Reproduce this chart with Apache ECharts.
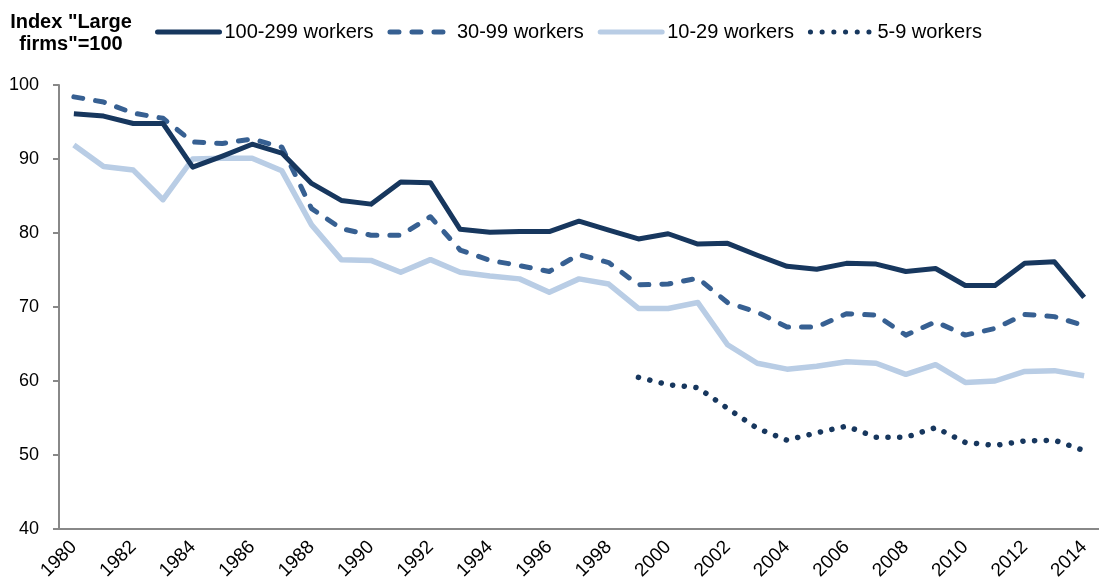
<!DOCTYPE html>
<html>
<head>
<meta charset="utf-8">
<script src="https://cdn.jsdelivr.net/npm/echarts@6/dist/echarts.min.js"></script>
<style>
  html, body { margin: 0; padding: 0; background: #fff; }
  #main { width: 1099px; height: 588px; }
</style>
</head>
<body>
<div id="main"></div>
<script>
var years = [];
for (var y = 1980; y <= 2014; y++) years.push(String(y));

// index, "large firms" = 100
var w100_299 = [96.1, 95.8, 94.8, 94.8, 88.9, 90.4, 92.0, 90.8, 86.7, 84.4, 83.9, 86.9, 86.8,
  80.5, 80.1, 80.2, 80.2, 81.6, 80.4, 79.2, 79.9, 78.5, 78.6, 77.0, 75.5, 75.1, 75.9, 75.8,
  74.8, 75.2, 72.9, 72.9, 75.9, 76.1, 71.3];
var w30_99 = [98.4, 97.7, 96.2, 95.5, 92.3, 92.1, 92.7, 91.6, 83.3, 80.6, 79.7, 79.7, 82.2,
  77.7, 76.3, 75.6, 74.8, 77.1, 76.0, 73.0, 73.1, 73.9, 70.6, 69.3, 67.3, 67.3, 69.1, 68.9,
  66.2, 68.0, 66.2, 67.1, 69.0, 68.7, 67.5];
var w10_29 = [91.9, 89.0, 88.5, 84.5, 90.0, 90.1, 90.1, 88.4, 81.1, 76.4, 76.3, 74.7, 76.4,
  74.7, 74.2, 73.8, 72.0, 73.8, 73.1, 69.8, 69.8, 70.6, 64.9, 62.4, 61.6, 62.0, 62.6, 62.4,
  60.9, 62.2, 59.8, 60.0, 61.3, 61.4, 60.7];
var w5_9 = [null, null, null, null, null, null, null, null, null, null, null, null, null,
  null, null, null, null, null, null, 60.5, 59.5, 59.1, 56.3, 53.6, 52.0, 53.0, 53.9, 52.4,
  52.4, 53.7, 51.7, 51.3, 51.9, 52.0, 50.6];

var yTicks = { min: 40, max: 100, step: 10 };

var chart = echarts.init(document.getElementById('main'));
var font = 'Liberation Sans, Arial, sans-serif';

chart.setOption({
  animation: false,
  backgroundColor: '#fff',
  textStyle: { fontFamily: font },
  graphic: [{
    type: 'text',
    x: 71,
    y: 11,
    style: {
      text: 'Index "Large\nfirms"=100',
      font: 'bold 20px ' + font,
      fill: '#000',
      align: 'center',
      lineHeight: 22
    }
  }],
  legend: {
    left: 150,
    top: 17,
    itemWidth: 62,
    itemHeight: 20,
    itemGap: 14,
    itemStyle: { opacity: 0 },
    lineStyle: { width: 5, cap: 'round' },
    textStyle: { fontSize: 20, color: '#000', fontFamily: font },
    data: ['100-299 workers', '30-99 workers', '10-29 workers', '5-9 workers']
  },
  grid: { left: 59, right: 0, top: 85, bottom: 59, containLabel: false },
  xAxis: {
    type: 'category',
    data: years,
    boundaryGap: true,
    axisLine: { lineStyle: { color: '#888', width: 2 } },
    axisTick: { interval: 0, length: 6, lineStyle: { color: '#888', width: 2 } },
    axisLabel: {
      interval: 1,
      rotate: 45,
      fontSize: 19,
      color: '#000',
      margin: 15
    },
    splitLine: { show: false }
  },
  yAxis: {
    type: 'value',
    min: yTicks.min,
    max: yTicks.max,
    interval: yTicks.step,
    axisLine: { show: true, lineStyle: { color: '#888', width: 2 } },
    axisTick: { show: true, length: 6, lineStyle: { color: '#888', width: 2 } },
    axisLabel: { fontSize: 18, color: '#000', margin: 20 },
    splitLine: { show: false }
  },
  series: [{
    name: '100-299 workers',
    type: 'line',
    data: w100_299,
    symbol: 'none',
    color: '#17375E',
    lineStyle: { width: 5, color: '#17375E', join: 'round' },
    z: 4
  }, {
    name: '30-99 workers',
    type: 'line',
    data: w30_99,
    symbol: 'none',
    color: '#376092',
    lineStyle: { width: 5, color: '#376092', type: [9, 13], cap: 'round', join: 'round' },
    z: 3
  }, {
    name: '10-29 workers',
    type: 'line',
    data: w10_29,
    symbol: 'none',
    color: '#B9CDE5',
    lineStyle: { width: 5.5, color: '#B9CDE5', join: 'round' },
    z: 2
  }, {
    name: '5-9 workers',
    type: 'line',
    data: w5_9,
    symbol: 'none',
    color: '#17375E',
    lineStyle: { width: 5.5, color: '#17375E', type: [0.1, 11.6], cap: 'round' },
    z: 3
  }]
});
</script>
</body>
</html>
